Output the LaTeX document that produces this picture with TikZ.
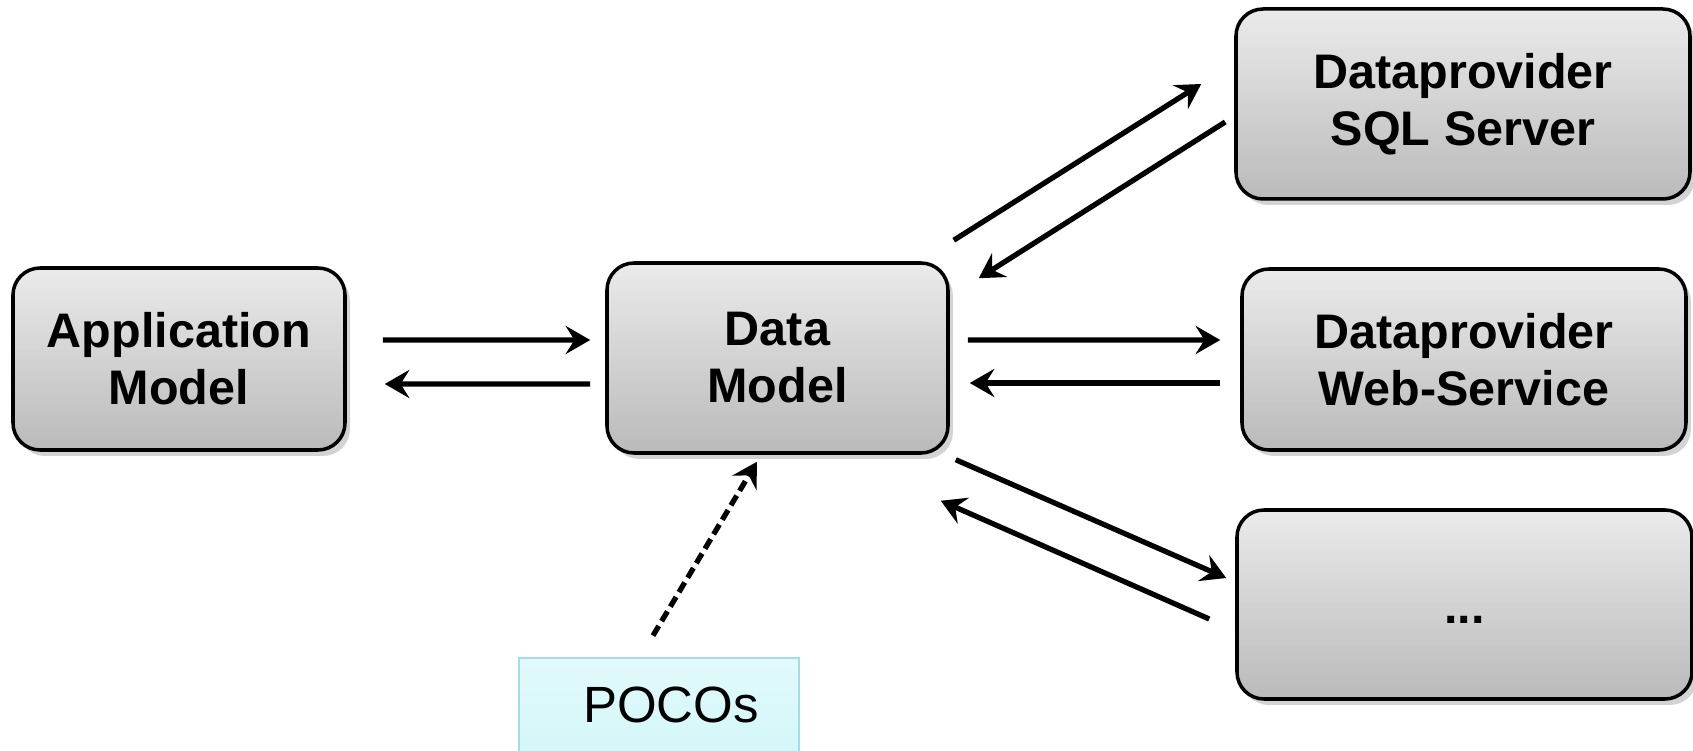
\documentclass[tikz,border=0pt]{standalone}
\usepackage{fontspec}
\setmainfont{Liberation Sans}
\usetikzlibrary{arrows.meta,shadows}
\definecolor{pocofill}{HTML}{D4F7F9}
\definecolor{pocorand}{HTML}{A6DDE3}
\tikzset{
  box/.style={draw=black, line width=1pt, rounded corners=0.27cm,
    top color=black!8, bottom color=black!27,
    drop shadow={shadow xshift=0.05cm, shadow yshift=-0.06cm, opacity=0.35},
    align=center, inner sep=0pt, font=\bfseries\fontsize{13.8}{16.2}\selectfont},
  poco/.style={draw=pocorand, line width=0.8pt, top color=pocofill!70, bottom color=pocofill,
    inner sep=0pt, font=\fontsize{14.5}{17}\selectfont},
  pfeil/.style={line width=1.5pt, -{Stealth[length=7pt,width=8pt,inset=2.5pt]}},
}

\begin{document}
\begin{tikzpicture}
  \useasboundingbox (0,0) rectangle (16.93,-7.51);
  %Kaesten
  \node[box, minimum width=3.32cm, minimum height=1.82cm] (app) at (1.79,-3.59) {Application\\Model};
  \node[box, minimum width=3.41cm, minimum height=1.90cm] (data) at (7.775,-3.58) {Data\\Model};
  \node[box, minimum width=4.54cm, minimum height=1.90cm] (sql) at (14.63,-1.04) {Dataprovider\\SQL Server};
  \node[box, minimum width=4.44cm, minimum height=1.81cm] (web) at (14.64,-3.595) {Dataprovider\\Web-Service};
  \node[box, minimum width=4.55cm, minimum height=1.89cm] (mehr) at (14.645,-6.045) {\rule[-4pt]{0pt}{19pt}...};
  \node[poco, minimum width=2.80cm, minimum height=0.94cm] (pocos) at (6.59,-7.05) {\hspace*{0.24cm}POCOs};

  %Pfeile links
  \draw[pfeil] ([shift={(0.36,0.19)}]app.east) -- ([shift={(-0.15,0.18)}]data.west);
  \draw[pfeil] ([shift={(-0.15,-0.26)}]data.west) -- ([shift={(0.38,-0.25)}]app.east);
  %Pfeile rechts
  \draw[pfeil] ([shift={(0.04,0.21)}]data.north east) -- ([shift={(-0.33,0.20)}]sql.west);
  \draw[pfeil] ([shift={(-0.09,-0.18)}]sql.west) -- ([shift={(0.29,-0.17)}]data.north east);
  \draw[pfeil] ([shift={(0.18,0.18)}]data.east) -- ([shift={(-0.20,0.195)}]web.west);
  \draw[pfeil] ([shift={(-0.20,-0.235)}]web.west) -- ([shift={(0.20,-0.25)}]data.east);
  \draw[pfeil] ([shift={(0.06,-0.05)}]data.south east) -- ([shift={(-0.09,0.265)}]mehr.west);
  \draw[pfeil] ([shift={(-0.26,-0.145)}]mehr.west) -- ([shift={(-0.09,-0.46)}]data.south east);
  %gestrichelter Pfeil
  \draw[pfeil, dash pattern=on 3.2pt off 1.6pt] ([shift={(-0.06,0.21)}]pocos.north) -- ([shift={(-0.205,-0.07)}]data.south);
\end{tikzpicture}
\end{document}
